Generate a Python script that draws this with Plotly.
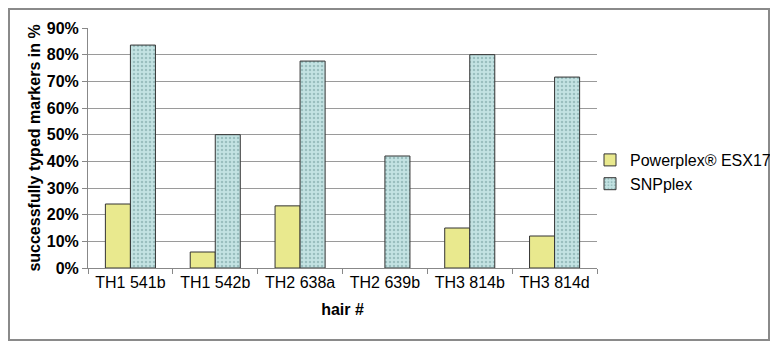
import plotly.graph_objects as go

categories = ["TH1 541b", "TH1 542b", "TH2 638a", "TH2 639b", "TH3 814b", "TH3 814d"]
powerplex = [24, 6, 23.3, 0, 15, 12]
snpplex = [83.6, 50, 77.6, 42, 80, 71.6]
y_ticks = [0, 10, 20, 30, 40, 50, 60, 70, 80, 90]
y_tick_labels = [f"{v}%" for v in y_ticks]

font_family = "Liberation Sans, Arial, sans-serif"

fig = go.Figure()
fig.add_trace(go.Bar(
    x=categories, y=powerplex, name="Powerplex® ESX17",
    marker=dict(color="#E9E98E",
                line=dict(color="#333333", width=[0 if v == 0 else 1 for v in powerplex])),
))
fig.add_trace(go.Bar(
    x=categories, y=snpplex, name="SNPplex",
    marker=dict(color="#BFE0E0", line=dict(color="#333333", width=1),
                pattern=dict(shape=".", fgcolor="#6F9A9A", bgcolor="#C4E3E3", size=4, solidity=0.3)),
))

W, H = 762, 333
L, R, T = 80, 589, 20
B = 260
fig.update_layout(
    width=W, height=H,
    paper_bgcolor="white", plot_bgcolor="white",
    margin=dict(l=L, r=W - R, t=T, b=H - B, autoexpand=False),
    barmode="group", bargap=0.41, bargroupgap=0,
    font=dict(family=font_family, color="black"),
    legend=dict(x=1.0 - 7 / 509, y=0.40, xanchor="left", yanchor="middle",
                bgcolor="rgba(0,0,0,0)",
                font=dict(size=16, family=font_family), itemwidth=30,
                tracegroupgap=2),
    showlegend=True,
)
fig.update_yaxes(
    range=[0, 90], tickvals=y_ticks, ticktext=y_tick_labels,
    tickfont=dict(size=16, family=font_family, weight="bold"),
    showgrid=True, gridcolor="#9a9a9a", gridwidth=1,
    showline=True, linecolor="#888888", ticks="outside", ticklen=5, tickcolor="#888888",
    title=dict(text="<b>successfully typed markers in %</b>", font=dict(size=16), standoff=2),
    zeroline=False, automargin=False,
)
fig.update_xaxes(
    tickfont=dict(size=16, family=font_family),
    showline=True, linecolor="#888888", ticks="outside", tickson="boundaries",
    ticklen=5, tickcolor="#888888",
    title=dict(text="<b>hair #</b>", font=dict(size=16), standoff=13),
    automargin=False,
)
fig.add_shape(type="rect", xref="paper", yref="paper",
              x0=(1 - L) / 509, x1=(W - 1 - L) / 509, y0=-(H - 1 - B) / 240, y1=1 + (T - 1) / 240,
              line=dict(color="#8a8a8a", width=2))

fig.write_html("out.html")
